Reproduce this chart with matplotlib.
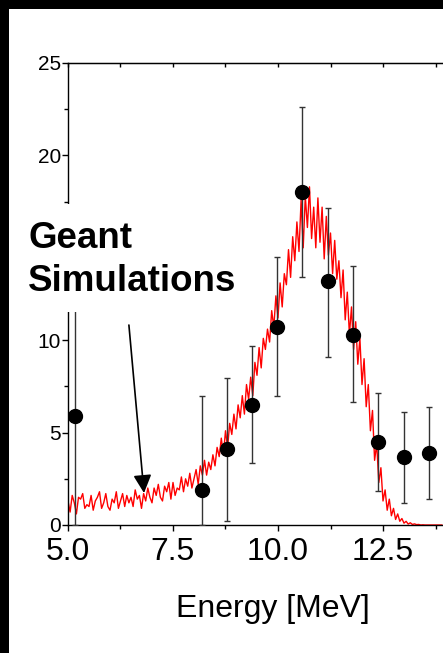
import matplotlib
matplotlib.use('Agg')
import matplotlib.pyplot as plt
import numpy as np
from matplotlib.patches import Rectangle
from matplotlib.ticker import MultipleLocator, FuncFormatter

plt.rcParams['font.family'] = ['Liberation Sans', 'DejaVu Sans']

# measured points (black circles)
energy_pts = [5.17, 8.18, 8.78, 9.38, 9.98, 10.58, 11.18, 11.79, 12.39, 12.99, 13.60]
counts_pts = [5.9, 1.9, 4.1, 6.5, 10.7, 18.0, 13.2, 10.3, 4.5, 3.7, 3.9]
bar_bottom = [0.0, 0.0, 0.2, 3.35, 7.0, 13.4, 9.1, 6.65, 1.85, 1.2, 1.4]
bar_top = [12.5, 7.0, 7.95, 9.7, 14.5, 22.6, 17.15, 14.0, 7.15, 6.1, 6.4]

# Geant simulation, 0.05 MeV bins from 5.00 MeV
sim_start = 5.0
sim_step = 0.05
sim_counts = [
    1.3, 0.7, 1.6, 1.2, 0.6, 1.5, 1.4, 1.7, 0.9, 1.1,
    1.0, 1.6, 0.8, 1.3, 1.5, 1.8, 0.9, 1.2, 1.7, 1.0,
    0.8, 1.4, 1.2, 1.8, 0.9, 1.3, 1.7, 1.0, 1.6, 1.2,
    1.5, 1.0, 1.9, 1.4, 1.6, 0.9, 1.7, 1.3, 2.0, 1.5,
    1.2, 2.0, 1.6, 2.2, 1.5, 1.3, 2.1, 1.8, 2.3, 1.4,
    2.3, 1.6, 2.0, 1.9, 2.6, 1.8, 2.5, 2.1, 2.8, 2.0,
    2.5, 3.0, 2.2, 3.2, 2.7, 3.5, 2.7, 3.4, 3.0, 3.8,
    3.2, 4.2, 3.7, 4.7, 3.8, 5.1, 4.2, 5.5, 4.9, 6.0,
    5.2, 6.5, 5.8, 7.0, 6.0, 7.6, 6.8, 8.0, 7.0, 8.8,
    8.1, 9.6, 8.5, 10.1, 9.5, 10.6, 9.9, 11.6, 10.7, 12.4,
    11.2, 13.1, 11.8, 13.6, 13.0, 14.9, 13.4, 15.6, 14.3, 16.4,
    14.8, 17.6, 15.0, 17.8, 16.1, 18.3, 15.5, 17.2, 15.0, 17.7,
    15.3, 17.2, 14.4, 16.7, 14.6, 15.8, 13.6, 15.4, 13.3, 14.3,
    12.3, 13.8, 11.1, 12.6, 10.3, 11.8, 9.5, 11.0, 8.7, 10.1,
    7.6, 9.0, 6.4, 7.6, 5.1, 6.2, 3.5, 4.4, 2.3, 3.1,
    1.3, 1.9, 0.8, 1.4, 0.5, 0.9, 0.3, 0.6, 0.2, 0.35,
    0.1, 0.2, 0.05, 0.12, 0.03, 0.06, 0.02, 0.03, 0.0, 0.01,
    0.0, 0.0, 0.0, 0.0, 0.0, 0.0, 0.0, 0.0, 0.0,
]
sim_energy = sim_start + sim_step * np.arange(len(sim_counts))

W, H = 443, 653
fig = plt.figure(figsize=(W / 100, H / 100), dpi=100, facecolor='black')
fig.patches.append(Rectangle((8.5 / W, 0), 1, (H - 8.5) / H, transform=fig.transFigure,
                             facecolor='white', edgecolor='none', zorder=-1))

ax = fig.add_axes([68 / W, (H - 525) / H, (W - 68) / W, 462 / H])
ax.set_facecolor('none')

ax.plot(sim_energy, sim_counts, color='red', lw=1.0, zorder=2)

cnt = np.array(counts_pts)
yerr = [cnt - np.array(bar_bottom), np.array(bar_top) - cnt]
ax.errorbar(energy_pts, counts_pts, yerr=yerr, fmt='o', color='black', ms=10,
            ecolor='#333333', elinewidth=1.0, capsize=2, capthick=1.0, zorder=3)

ax.annotate('', xy=(6.81, 1.73), xytext=(6.45, 10.82),
            arrowprops=dict(arrowstyle='-|>,head_length=1.1,head_width=0.55',
                            color='black', lw=1.2, shrinkA=0, shrinkB=0), zorder=4)

ax.set_xlim(5.0, 5.0 + 375 / 42)
ax.set_ylim(0, 25)
ax.xaxis.set_major_locator(MultipleLocator(2.5))
ax.xaxis.set_minor_locator(MultipleLocator(1.25))
ax.yaxis.set_major_locator(MultipleLocator(5))
ax.yaxis.set_minor_locator(MultipleLocator(2.5))
ax.xaxis.set_major_formatter(matplotlib.ticker.FormatStrFormatter('%.1f'))
# the 15 label sits under the "Geant Simulations" block
ax.yaxis.set_major_formatter(FuncFormatter(lambda v, p: '' if abs(v - 15) < 1e-6 else '%d' % v))

ax.spines['right'].set_visible(False)
for s in ['left', 'bottom', 'top']:
    ax.spines[s].set_linewidth(1.0)

ax.tick_params(axis='x', which='major', direction='out', length=4, width=1, labelsize=23, pad=5)
ax.tick_params(axis='x', which='minor', direction='out', length=3, width=1)
ax.tick_params(axis='y', which='major', direction='out', length=4, width=1, labelsize=15, pad=1)
ax.tick_params(axis='y', which='minor', direction='out', length=3, width=1)

top = ax.secondary_xaxis('top')
top.xaxis.set_major_locator(MultipleLocator(2.5))
top.xaxis.set_minor_locator(MultipleLocator(1.25))
top.tick_params(which='both', direction='in', length=3, width=1, labeltop=False)

fig.text(273 / W, 1 - 617 / H, 'Energy [MeV]', ha='center', va='baseline', fontsize=23)

# white block behind the label hides part of the y axis
fig.patches.append(Rectangle((9 / W, 1 - 312 / H), 236 / W, 108 / H, transform=fig.transFigure,
                             facecolor='white', edgecolor='none', zorder=5))
fig.text(28 / W, 1 - 248 / H, 'Geant', ha='left', va='baseline', fontsize=26.5,
         fontweight='bold', zorder=6)
fig.text(28 / W, 1 - 291 / H, 'Simulations', ha='left', va='baseline', fontsize=26.5,
         fontweight='bold', zorder=6)

fig.savefig('out.png', dpi=100, facecolor='black')
